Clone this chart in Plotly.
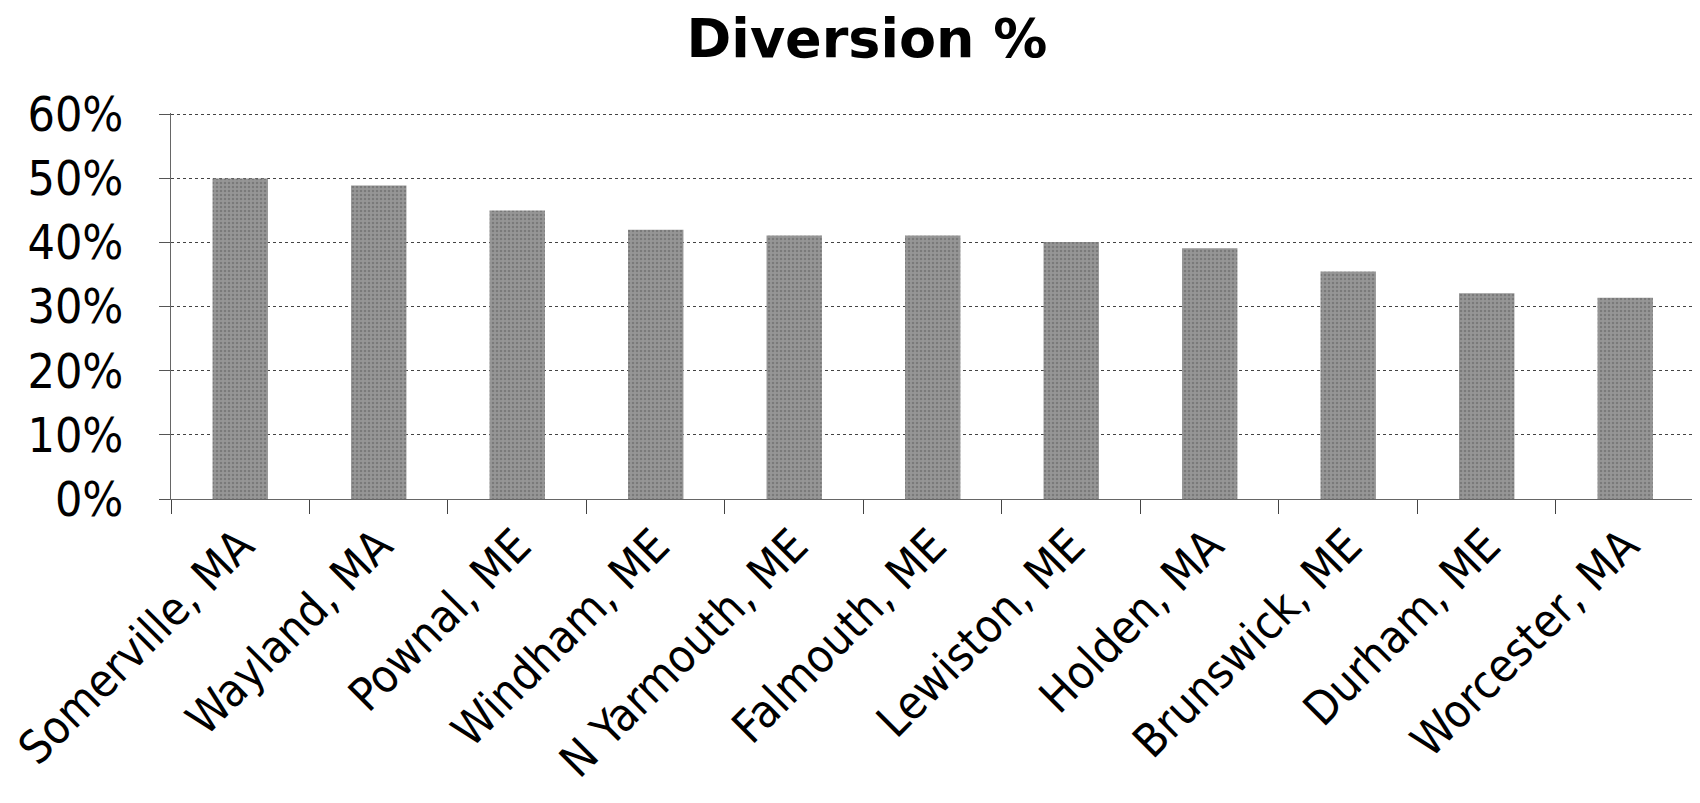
import plotly.graph_objects as go

categories = ["Somerville, MA", "Wayland, MA", "Pownal, ME", "Windham, ME",
              "N Yarmouth, ME", "Falmouth, ME", "Lewiston, ME", "Holden, MA",
              "Brunswick, ME", "Durham, ME", "Worcester, MA"]
diversion = [50.0, 48.9, 45.0, 42.0, 41.1, 41.1, 40.1, 39.1, 35.5, 32.1, 31.4]
y_ticks = [0, 10, 20, 30, 40, 50, 60]
y_labels = ["0%", "10%", "20%", "30%", "40%", "50%", "60%"]

FONT = "DejaVu Sans Condensed, DejaVu Sans, sans-serif"

W, H = 1692, 795  # page has an 8px body margin

fig = go.Figure(go.Bar(
    x=categories, y=diversion,
    width=0.4,
    marker=dict(color="#8a8a8a", line=dict(width=0),
                pattern=dict(shape=".", fgcolor="#5e5e5e", bgcolor="#969696",
                             size=4, solidity=0.3)),
))

fig.update_layout(
    width=W, height=H,
    paper_bgcolor="white", plot_bgcolor="white",
    margin=dict(l=163, r=0, t=105, b=304, autoexpand=False),
    showlegend=False,
    title=dict(text="<b>Diversion %</b>", xref="container", x=859 / W, xanchor="center",
               yref="container", y=1 - 30 / H, yanchor="middle",
               font=dict(family="DejaVu Sans, sans-serif", size=54, color="black")),
    font=dict(family=FONT, color="black"),
)

fig.update_yaxes(
    range=[0, 60.2], tickvals=y_ticks, ticktext=y_labels,
    tickfont=dict(size=48, family=FONT, color="black"),
    showgrid=True, gridcolor="#444444", gridwidth=1, griddash="dot",
    showline=True, linecolor="#666666", linewidth=1,
    ticks="outside", ticklen=11, tickcolor="#555555",
    ticklabelstandoff=26, zeroline=False, automargin=False,
)

fig.update_xaxes(
    range=[-0.5, 10.54],
    tickangle=-45, tickfont=dict(size=46, family=FONT, color="black"),
    showline=True, linecolor="#666666", linewidth=1,
    ticks="outside", tickson="boundaries", ticklen=14, tickcolor="#444444",
    showgrid=False, automargin=False,
)

fig.write_html("out.html")
